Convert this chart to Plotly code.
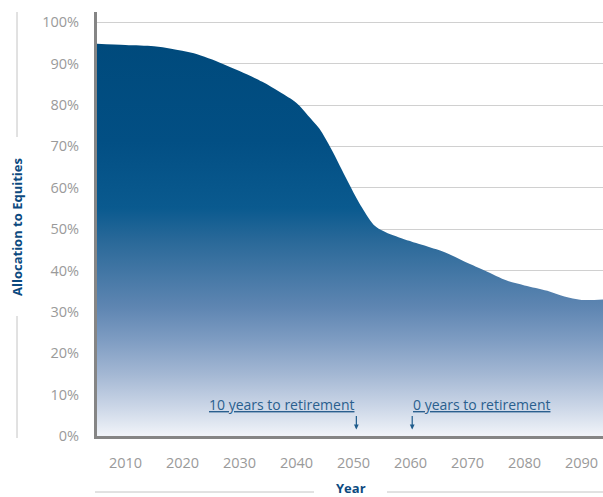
import plotly.graph_objects as go

# ---- data ----
years = [2005, 2010, 2015, 2018, 2022, 2027, 2030, 2034, 2037, 2040, 2042, 2044, 2046,
         2049, 2051, 2053, 2054, 2056, 2058, 2062, 2066, 2069, 2073, 2077, 2080,
         2084, 2087, 2090, 2094]
equity_pct = [94.8, 94.5, 94.2, 93.6, 92.5, 90.0, 88.2, 85.6, 83.2, 80.5, 77.5, 74.3, 69.6,
              61.5, 56.3, 52.0, 50.5, 49.0, 48.0, 46.2, 44.4, 42.5, 40.0, 37.5, 36.4,
              35.1, 33.7, 32.9, 33.0]
y_ticks = [0, 10, 20, 30, 40, 50, 60, 70, 80, 90, 100]
y_tick_labels = [f"{v}%" for v in y_ticks]
x_ticks = [2010, 2020, 2030, 2040, 2050, 2060, 2070, 2080, 2090]
marker_years = [2050.5, 2060.3]
marker_texts = ["10 years to retirement", "0 years to retirement"]

W, H = 603, 497
L, R, T, B = 97, 603, 12, 436  # plot area in pixels

def px(x):
    return (x - L) / (R - L)

def py(y):
    return (B - y) / (B - T)

fig = go.Figure()
fig.add_trace(go.Scatter(
    x=years, y=equity_pct, mode="lines",
    line=dict(width=0, shape="spline", smoothing=0.9, color="#004a7c"),
    fill="tozeroy",
    fillgradient=dict(
        type="vertical", start=0, stop=95,
        colorscale=[
            [0.0, "#f1f4f9"],
            [0.074, "#cbd6e7"],
            [0.158, "#a3b7d3"],
            [0.242, "#7f9dc3"],
            [0.326, "#5f86b2"],
            [0.495, "#2a6999"],
            [0.58, "#0a5a8f"],
            [0.75, "#024f84"],
            [1.0, "#004a7c"],
        ],
    ),
    hoverinfo="skip", showlegend=False,
))

annotations = []
annotations.append(dict(
    x=marker_years[0], y=7.5, xref="x", yref="y", text="<u>" + marker_texts[0] + "</u>",
    showarrow=False, xanchor="right", yanchor="middle",
    font=dict(family="Open Sans", size=14, color="#2a5f8e"),
))
annotations.append(dict(
    x=marker_years[1] - 0.3, y=7.5, xref="x", yref="y", text="<u>" + marker_texts[1] + "</u>",
    showarrow=False, xanchor="left", yanchor="middle",
    font=dict(family="Open Sans", size=14, color="#2a5f8e"),
))
for my in marker_years:
    annotations.append(dict(
        x=my, y=1.6, xref="x", yref="y", ax=0, ay=-15, axref="pixel", ayref="pixel",
        text="", showarrow=True, arrowhead=2, arrowsize=0.8, arrowwidth=1.2,
        arrowcolor="#1f5c8c",
    ))
annotations.append(dict(
    x=px(17), y=py(227), xref="paper", yref="paper", text="<b>Allocation to Equities</b>",
    textangle=-90, showarrow=False, xanchor="center", yanchor="middle",
    font=dict(family="Open Sans", size=13, color="#0c4a80"),
))
annotations.append(dict(
    x=px(351), y=py(488), xref="paper", yref="paper", text="<b>Year</b>",
    showarrow=False, xanchor="center", yanchor="middle",
    font=dict(family="Open Sans", size=13, color="#0c4a80"),
))

shapes = []
line_style = dict(color="#c4c4c4", width=1)
shapes.append(dict(type="line", xref="paper", yref="paper", x0=px(17), x1=px(17),
                   y0=py(12), y1=py(137), line=line_style))
shapes.append(dict(type="line", xref="paper", yref="paper", x0=px(17), x1=px(17),
                   y0=py(316), y1=py(438), line=line_style))
shapes.append(dict(type="line", xref="paper", yref="paper", x0=px(95), x1=px(314),
                   y0=py(492), y1=py(492), line=line_style))
shapes.append(dict(type="line", xref="paper", yref="paper", x0=px(387), x1=px(603),
                   y0=py(492), y1=py(492), line=line_style))

fig.update_layout(
    width=W, height=H,
    margin=dict(l=L, r=W - R, t=T, b=H - B),
    paper_bgcolor="white", plot_bgcolor="white",
    font=dict(family="Open Sans", size=14, color="#9a9a9a"),
    annotations=annotations, shapes=shapes,
    xaxis=dict(
        range=[2005, 2005 + (R - L) / 5.7], tickvals=x_ticks, ticktext=[str(v) for v in x_ticks],
        showgrid=False, zeroline=False,
        showline=True, linewidth=3, linecolor="#858585",
        ticks="outside", ticklen=12, tickcolor="rgba(0,0,0,0)",
        tickfont=dict(family="Open Sans", size=14.5, color="#9a9a9a"),
    ),
    yaxis=dict(
        range=[0, (B - T) / 4.137], tickvals=y_ticks, ticktext=y_tick_labels,
        showgrid=True, gridcolor="#d0d0d0", gridwidth=1, zeroline=False,
        showline=True, linewidth=3, linecolor="#858585",
        ticks="outside", ticklen=12, tickcolor="rgba(0,0,0,0)",
        tickfont=dict(family="Open Sans", size=14.5, color="#9a9a9a"),
    ),
)

fig.write_html("out.html", config={"displayModeBar": False},
               post_script="document.body.style.margin='0px';")
